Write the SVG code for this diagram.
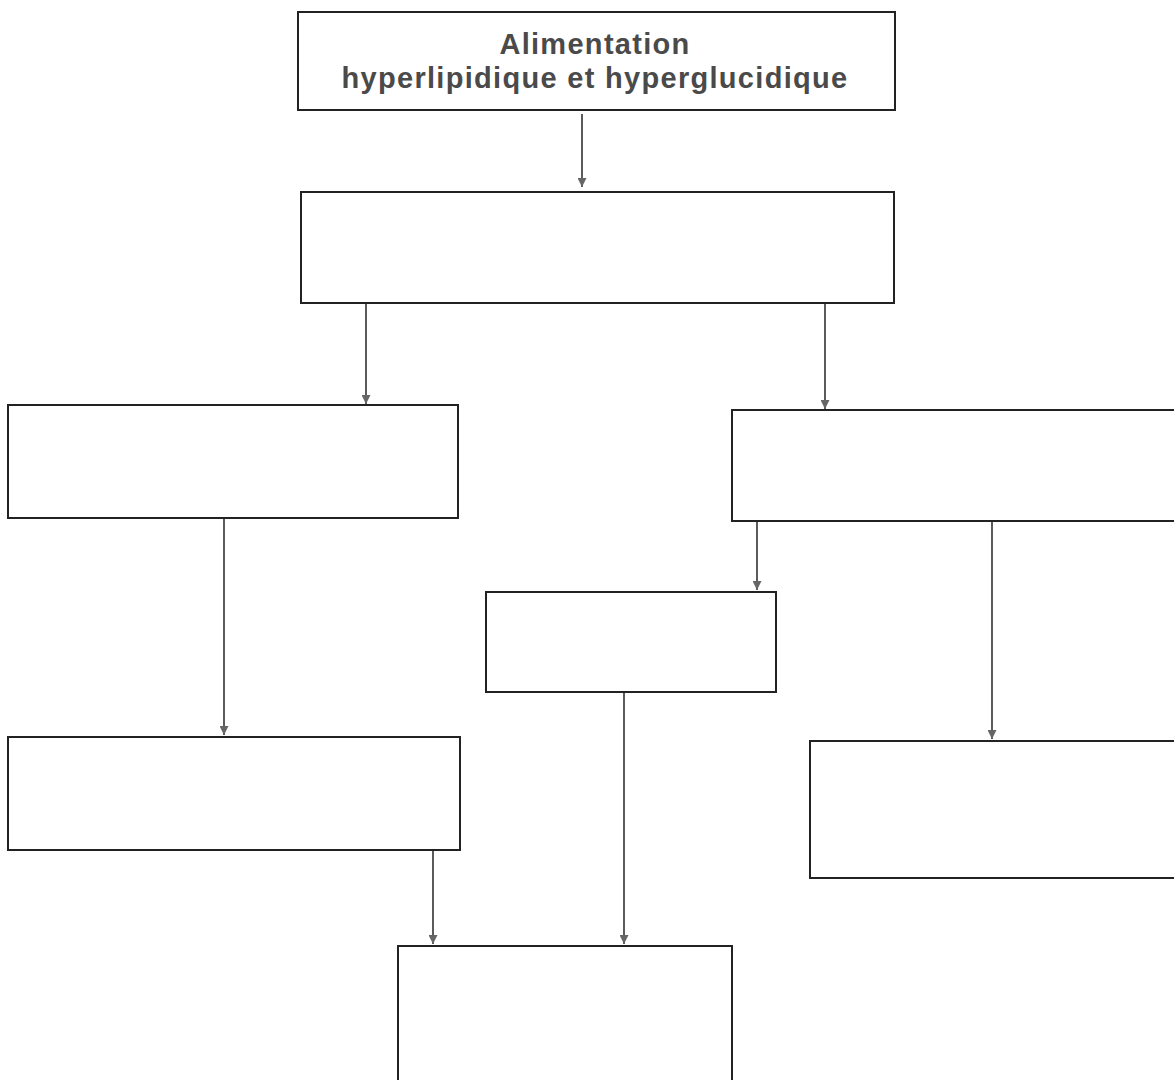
<svg xmlns="http://www.w3.org/2000/svg" width="1174" height="1080" viewBox="0 0 1174 1080">
<style>
.box{fill:#fff;stroke:#222;stroke-width:2}
.con{stroke:#333;stroke-width:1.6;fill:none;marker-end:url(#ah)}
.t{font-family:"Liberation Sans",Arial,sans-serif;font-size:29px;font-weight:bold;letter-spacing:1.3px;fill:#4a4a4a;text-anchor:middle}
</style>
<defs>
<marker id="ah" viewBox="0 0 10 10" refX="10" refY="5" markerWidth="9" markerHeight="9" markerUnits="userSpaceOnUse" orient="auto">
<path d="M0,0 L10,5 L0,10 Z" fill="#666"/>
</marker>
</defs>
<rect width="1174" height="1080" fill="#fff"/>
<g id="connectors">
<line class="con" x1="582" y1="114" x2="582" y2="187"/>
<line class="con" x1="366" y1="303" x2="366" y2="404"/>
<line class="con" x1="825" y1="303" x2="825" y2="409"/>
<line class="con" x1="757" y1="521" x2="757" y2="590"/>
<line class="con" x1="992" y1="521" x2="992" y2="739"/>
<line class="con" x1="224" y1="518" x2="224" y2="735"/>
<line class="con" x1="433" y1="850" x2="433" y2="944"/>
<line class="con" x1="624" y1="692" x2="624" y2="944"/>
</g>
<g id="n1"><rect class="box" x="298" y="12" width="597" height="98"/>
<text class="t" x="595" y="54">Alimentation</text>
<text class="t" x="595" y="88">hyperlipidique et hyperglucidique</text></g>
<g id="n2"><rect class="box" x="301" y="192" width="593" height="111"/></g>
<g id="n3"><rect class="box" x="8" y="405" width="450" height="113"/></g>
<g id="n4"><rect class="box" x="732" y="410" width="450" height="111"/></g>
<g id="n5"><rect class="box" x="486" y="592" width="290" height="100"/></g>
<g id="n6"><rect class="box" x="8" y="737" width="452" height="113"/></g>
<g id="n7"><rect class="box" x="810" y="741" width="372" height="137"/></g>
<g id="n8"><rect class="box" x="398" y="946" width="334" height="140"/></g>
</svg>
